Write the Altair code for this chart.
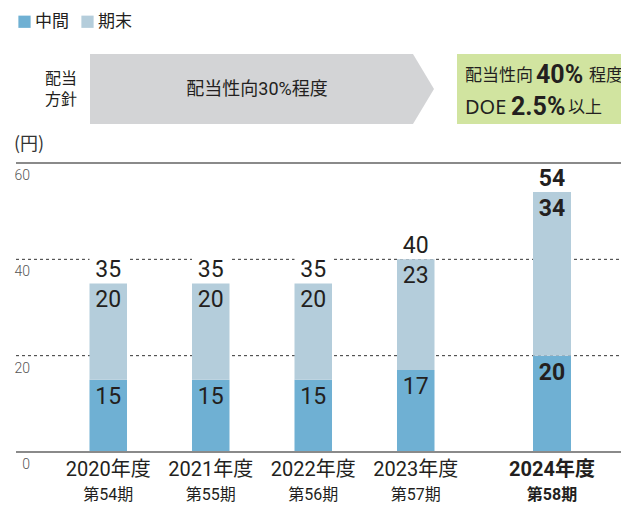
import altair as alt
import pandas as pd

# ---------------- data ----------------
years = ["2020年度", "2021年度", "2022年度", "2023年度", "2024年度"]
periods = ["第54期", "第55期", "第56期", "第57期", "第58期"]
interim = [15, 15, 15, 17, 20]
final = [20, 20, 20, 23, 34]
total = [35, 35, 35, 40, 54]
series = ["中間", "期末"]
y_ticks = [0, 20, 40, 60]

policy_label = ["配当", "方針"]
policy_old = "配当性向30%程度"
policy_new_1 = ["配当性向", "40%", "程度"]
policy_new_2 = ["DOE", "2.5%", "以上"]
unit_label = "(円)"

# ---------------- layout / style ----------------
W, H = 621, 289
TOP = 163
BOTTOM = 506 - TOP - H

NUM = "Roboto, Noto Sans CJK JP, sans-serif"
JP = "Noto Sans CJK JP, Noto Sans, sans-serif"
INK = "#231f20"
C_INT, C_FIN = "#6fb0d3", "#b4cddb"

df = pd.DataFrame({"year": years, "period": periods, "interim": interim,
                   "final": final, "total": total})
long_rows = []
for i, y in enumerate(years):
    long_rows.append({"year": y, "series": series[0], "lo": 0, "hi": interim[i]})
    long_rows.append({"year": y, "series": series[1], "lo": interim[i], "hi": interim[i] + final[i]})
dl = pd.DataFrame(long_rows)

ysc = alt.Scale(domain=[0, 60], nice=False, zero=True)
xa = alt.Scale(domain=years[:4], range=[57, 467], paddingInner=0.634, paddingOuter=0.317)
xb = alt.Scale(domain=years[4:], range=[514, 590], paddingInner=0.5, paddingOuter=0.25)
cscale = alt.Scale(domain=series, range=[C_INT, C_FIN])
legend = alt.Legend(orient="none", legendX=16, legendY=-150, direction="horizontal",
                    title=None, symbolType="square", symbolSize=150, symbolStrokeWidth=0,
                    symbolOpacity=1, labelFont=JP, labelFontSize=17, labelColor=INK,
                    columnPadding=10, labelOffset=2, labelLimit=0)


def X(sc):
    return alt.X("year:N", scale=sc, axis=None)


def Y(f):
    return alt.Y(f, scale=ysc, axis=None)


def group_layers(data, ldata, sc, bold):
    w = "bold" if bold else "normal"
    base = alt.Chart(data).encode(x=X(sc))
    mask = base.transform_calculate(top="datum.total + 6.5").mark_bar(
        color="white").encode(y=Y("total:Q"), y2="top:Q")
    bars = alt.Chart(ldata).mark_bar().encode(
        x=X(sc), y=Y("hi:Q"), y2="lo:Q",
        color=alt.Color("series:N", scale=cscale, legend=legend))
    t_int = base.mark_text(font=NUM, fontSize=23, fontWeight=w, color=INK,
                           baseline="alphabetic", dy=24).encode(y=Y("interim:Q"), text="interim:Q")
    t_fin = base.mark_text(font=NUM, fontSize=23, fontWeight=w, color=INK,
                           baseline="alphabetic", dy=24).encode(y=Y("total:Q"), text="final:Q")
    t_tot = base.mark_text(font=NUM, fontSize=23, fontWeight=w, color=INK,
                           baseline="alphabetic", dy=-6).encode(y=Y("total:Q"), text="total:Q")
    t_year = base.mark_text(font=NUM, fontSize=20, fontWeight=w, color=INK,
                            baseline="alphabetic").encode(y=alt.value(313), text="year:N")
    t_per = base.mark_text(font=NUM, fontSize=16, fontWeight=w, color=INK,
                           baseline="alphabetic").encode(y=alt.value(337), text="period:N")
    return mask, bars, t_int, t_fin, t_tot, t_year, t_per


ga = group_layers(df.iloc[:4], dl[dl.year.isin(years[:4])], xa, False)
gb = group_layers(df.iloc[4:], dl[dl.year.isin(years[4:])], xb, True)

ticks = alt.Chart(pd.DataFrame({"v": y_ticks}))
grid = ticks.transform_filter("datum.v > 0 && datum.v < 60").mark_rule(
    color="#333333", strokeWidth=1, strokeDash=[3, 3]).encode(
    y=Y("v:Q"), x=alt.value(16), x2=alt.value(W))
solid = ticks.transform_filter("datum.v == 0 || datum.v == 60").mark_rule(
    color="#8a8a8a", strokeWidth=2).encode(y=Y("v:Q"), x=alt.value(16), x2=alt.value(W))
ylab = ticks.mark_text(font=NUM, fontSize=14, fontWeight=300, color="#555555", align="right",
                       baseline="alphabetic", dy=17).encode(
    y=Y("v:Q"), x=alt.value(30), text="v:Q")

one = alt.Chart(pd.DataFrame({"k": [0]}))


def txt(s, x, y, size, font=JP, weight="normal", align="left", color=INK):
    return one.mark_text(text=s, font=font, fontSize=size, fontWeight=weight, align=align,
                         baseline="middle", color=color).encode(
        x=alt.value(x), y=alt.value(y - TOP))


arrow_path = "M-4.914,-1L4.314,-1L4.914,0L4.314,1L-4.914,1Z"
arrow = one.mark_point(shape=arrow_path, size=4900, filled=True, color="#d3d4d6",
                       opacity=1, strokeWidth=0).encode(x=alt.value(262), y=alt.value(89 - TOP))
green = one.mark_rect(color="#d1e4a0").encode(
    x=alt.value(457), x2=alt.value(W + 5), y=alt.value(54 - TOP), y2=alt.value(124 - TOP))

decor = [
    txt(unit_label, 14, 145, 18, color="#333333"),
    txt(policy_label[0], 61, 79, 16, align="center"),
    txt(policy_label[1], 61, 100, 16, align="center"),
    arrow,
    txt(policy_old, 257, 90, 18, font=NUM, align="center"),
    green,
    txt(policy_new_1[0], 465, 76, 17),
    txt(policy_new_1[1], 536, 75, 25, font=NUM, weight="bold"),
    txt(policy_new_1[2], 589, 76, 17),
    txt(policy_new_2[0], 465, 108, 20, font="Noto Sans, sans-serif"),
    txt(policy_new_2[1], 511, 107, 25, font=NUM, weight="bold"),
    txt(policy_new_2[2], 568, 108, 17),
]

layers = [grid, ga[0], gb[0], ga[1], gb[1], solid, ylab,
          *ga[2:], *gb[2:], *decor]

chart = alt.layer(*layers).resolve_scale(x="independent").properties(
    width=W, height=H,
    padding={"left": 0, "right": 0, "top": TOP, "bottom": BOTTOM},
    autosize=alt.AutoSizeParams(type="none"),
    background="white",
).configure_view(stroke=None)

chart.save("out.html", embed_options={"renderer": "svg", "actions": False})
